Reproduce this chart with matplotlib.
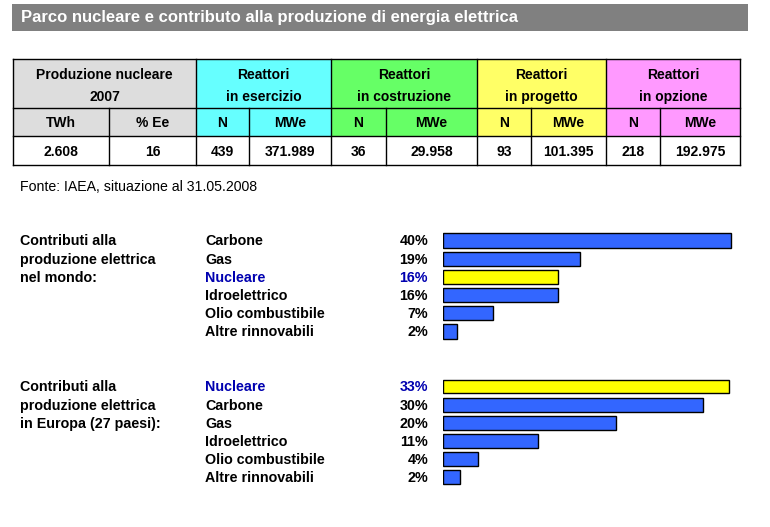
import matplotlib

matplotlib.use("Agg")
import matplotlib.pyplot as plt
from matplotlib.patches import Rectangle
from matplotlib.transforms import blended_transform_factory

plt.rcParams["font.family"] = ["Liberation Sans", "DejaVu Sans"]

W, H = 770, 527

TITLE = "Parco nucleare e contributo alla produzione di energia elettrica"
SOURCE = "Fonte: IAEA, situazione al 31.05.2008"

# table
GROUP_TITLES = [
    "Produzione nucleare\n2007",
    "Reattori\nin esercizio",
    "Reattori\nin costruzione",
    "Reattori\nin progetto",
    "Reattori\nin opzione",
]
GROUP_COLORS = ["#DDDDDD", "#66FFFF", "#66FF66", "#FFFF66", "#FF99FF"]
SUB_HEADERS = ["TWh", "% Ee", "N", "MWe", "N", "MWe", "N", "MWe", "N", "MWe"]
TABLE_VALUES = ["2.608", "16", "439", "371.989", "36", "29.958", "93", "101.395", "218", "192.975"]

# bars
WORLD_TITLE = "Contributi alla\nproduzione elettrica\nnel mondo:"
WORLD_SOURCES = ["Carbone", "Gas", "Nucleare", "Idroelettrico", "Olio combustibile", "Altre rinnovabili"]
WORLD_SHARE = [40, 19, 16, 16, 7, 2]

EUROPE_TITLE = "Contributi alla\nproduzione elettrica\nin Europa (27 paesi):"
EUROPE_SOURCES = ["Nucleare", "Carbone", "Gas", "Idroelettrico", "Olio combustibile", "Altre rinnovabili"]
EUROPE_SHARE = [33, 30, 20, 11, 4, 2]

BAR_BLUE = "#3366FF"
BAR_NUCLEAR = "#FFFF00"
NUCLEAR_TEXT = "#0000B0"

COL_EDGES = [13, 109, 196, 249, 331, 386, 477, 531, 606, 660, 740]
ROW_EDGES = [59, 108, 136, 165]
GROUP_SPANS = [(0, 2), (2, 4), (4, 6), (6, 8), (8, 10)]

TABLE_FS = 10
LABEL_FS = 10.3

fig = plt.figure(figsize=(W / 100, H / 100), dpi=100)
bg = fig.add_axes([0, 0, 1, 1])
bg.set_xlim(0, W)
bg.set_ylim(H, 0)
bg.set_axis_off()

# title bar
bg.add_patch(Rectangle((12, 4), 736, 26.5, color="#808080", lw=0))
bg.text(21, 17.5, TITLE, color="white", fontsize=12, fontweight="bold", va="center", ha="left")

# table cells
for (a, b), title, color in zip(GROUP_SPANS, GROUP_TITLES, GROUP_COLORS):
    x0, x1 = COL_EDGES[a], COL_EDGES[b]
    bg.add_patch(Rectangle((x0, ROW_EDGES[0]), x1 - x0, ROW_EDGES[2] - ROW_EDGES[0],
                           facecolor=color, edgecolor="none"))
    bg.text((x0 + x1) / 2, (ROW_EDGES[0] + ROW_EDGES[1]) / 2 + 2.5, title, ha="center", va="center",
            fontsize=TABLE_FS, fontweight="bold", linespacing=1.7)
    bg.plot([x0, x0], [ROW_EDGES[0], ROW_EDGES[3]], color="black", lw=1)

for i, (sub, val) in enumerate(zip(SUB_HEADERS, TABLE_VALUES)):
    x0, x1 = COL_EDGES[i], COL_EDGES[i + 1]
    xc = (x0 + x1) / 2
    bg.text(xc, (ROW_EDGES[1] + ROW_EDGES[2]) / 2 + 1, sub, ha="center", va="center",
            fontsize=TABLE_FS, fontweight="bold")
    bg.text(xc, (ROW_EDGES[2] + ROW_EDGES[3]) / 2 + 1, val, ha="center", va="center",
            fontsize=TABLE_FS, fontweight="bold")
    if i % 2 == 1:
        bg.plot([x0, x0], [ROW_EDGES[1], ROW_EDGES[3]], color="black", lw=1)

for y in ROW_EDGES:
    bg.plot([COL_EDGES[0], COL_EDGES[-1]], [y, y], color="black", lw=1)
bg.plot([COL_EDGES[-1]] * 2, [ROW_EDGES[0], ROW_EDGES[3]], color="black", lw=1)

bg.text(20, 187, SOURCE, fontsize=10.2, ha="left", va="center")


def bar_block(top_center, spacing, px_per_unit, sources, shares, title):
    n = len(sources)
    x_left, width_px = 443, 300
    top = top_center - spacing / 2
    height_px = spacing * n
    ax = fig.add_axes([x_left / W, 1 - (top + height_px) / H, width_px / W, height_px / H])
    ax.set_xlim(0, width_px / px_per_unit)
    ax.set_ylim(n - 0.5, -0.5)
    ax.set_axis_off()
    colors = [BAR_NUCLEAR if s == "Nucleare" else BAR_BLUE for s in sources]
    ax.barh(range(n), shares, height=0.77, color=colors, edgecolor="black", linewidth=1)

    tr = blended_transform_factory(fig.transFigure, ax.transData)
    for i, (s, v) in enumerate(zip(sources, shares)):
        tc = NUCLEAR_TEXT if s == "Nucleare" else "black"
        ax.text(205 / W, i + 0.05, s, transform=tr, ha="left", va="center", fontsize=LABEL_FS,
                fontweight="bold", color=tc, clip_on=False)
        ax.text(428 / W, i + 0.05, f"{v}%", transform=tr, ha="right", va="center", fontsize=LABEL_FS,
                fontweight="bold", color=tc, clip_on=False)
    for i, line in enumerate(title.split("\n")):
        ax.text(20 / W, i + 0.05, line, transform=tr, ha="left", va="center", fontsize=LABEL_FS,
                fontweight="bold", clip_on=False)
    return ax


bar_block(240.5, 18.2, 7.2, WORLD_SOURCES, WORLD_SHARE, WORLD_TITLE)
bar_block(386.5, 18.1, 8.67, EUROPE_SOURCES, EUROPE_SHARE, EUROPE_TITLE)

fig.savefig("out.png", dpi=100)
